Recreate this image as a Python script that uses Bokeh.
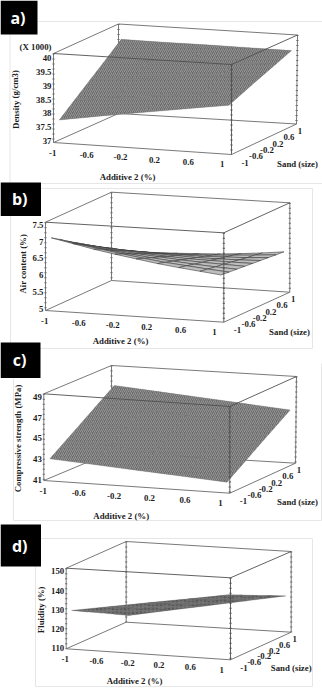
from bokeh.plotting import figure
from bokeh.models import ColumnDataSource, Range1d
from bokeh.core.properties import value
from bokeh.embed import file_html
from bokeh.resources import INLINE

# ---------- data ----------
ADDITIVE_TICKS = [-1, -0.6, -0.2, 0.2, 0.6, 1]
SAND_TICKS = [-1, -0.6, -0.2, 0.2, 0.6, 1]
TICK_LABELS = ["-1", "-0.6", "-0.2", "0.2", "0.6", "1"]

NODES_5 = [-1, -0.5, 0, 0.5, 1]
NODES_9 = [-1, -0.75, -0.5, -0.25, 0, 0.25, 0.5, 0.75, 1]

DENSITY_TICKS = [37, 37.5, 38, 38.5, 39, 39.5, 40]
DENSITY_LABELS = ["37", "37.5", "38", "38.5", "39", "39.5", "40"]
# rows: sand -1 .. 1, columns: additive -1 .. 1
DENSITY = [
    [37.74, 37.99, 38.22, 38.45, 38.67],
    [38.22, 38.39, 38.56, 38.73, 38.91],
    [38.70, 38.81, 38.93, 39.04, 39.15],
    [39.17, 39.22, 39.28, 39.33, 39.38],
    [39.65, 39.64, 39.64, 39.63, 39.62],
]

AIR_TICKS = [5, 5.5, 6, 6.5, 7, 7.5]
AIR_LABELS = ["5", "5.5", "6", "6.5", "7", "7.5"]
AIR = [
    [7.10, 6.97, 6.84, 6.73, 6.63, 6.53, 6.45, 6.38, 6.31],
    [6.95, 6.83, 6.73, 6.63, 6.54, 6.46, 6.40, 6.34, 6.29],
    [6.79, 6.69, 6.60, 6.52, 6.45, 6.39, 6.34, 6.30, 6.27],
    [6.64, 6.56, 6.48, 6.42, 6.37, 6.32, 6.29, 6.27, 6.25],
    [6.49, 6.42, 6.37, 6.32, 6.28, 6.25, 6.24, 6.23, 6.23],
    [6.34, 6.29, 6.25, 6.22, 6.20, 6.18, 6.18, 6.19, 6.21],
    [6.19, 6.15, 6.13, 6.11, 6.11, 6.11, 6.13, 6.15, 6.19],
    [6.03, 6.01, 6.00, 6.01, 6.02, 6.04, 6.08, 6.12, 6.17],
    [5.88, 5.88, 5.89, 5.91, 5.94, 5.97, 6.02, 6.08, 6.15],
]

STRENGTH_TICKS = [41, 43, 45, 47, 49]
STRENGTH_LABELS = ["41", "43", "45", "47", "49"]
STRENGTH = [
    [43.00, 42.73, 42.45, 42.18, 41.90],
    [44.12, 43.83, 43.54, 43.25, 42.96],
    [45.24, 44.94, 44.63, 44.33, 44.02],
    [46.36, 46.04, 45.72, 45.39, 45.07],
    [47.48, 47.14, 46.81, 46.47, 46.13],
]

FLUIDITY_TICKS = [110, 120, 130, 140, 150]
FLUIDITY_LABELS = ["110", "120", "130", "140", "150"]
FLUIDITY = [
    [129.4, 132.7, 136.0, 139.2, 142.5],
    [125.4, 128.8, 132.3, 135.7, 139.1],
    [121.5, 124.9, 128.6, 132.1, 135.6],
    [117.5, 121.2, 124.9, 128.5, 132.2],
    [113.5, 117.3, 121.1, 124.9, 128.7],
]

# ---------- panels: projection frame of each box (front/back, left/right, top/bottom) ----------
PANELS = [
    dict(tag="a)", tag_box=(0, 37, 0, 34), ylabel="Density (g/cm3)", ylabel_at=(15, 99),
         add_at=(127, 176.5), sand_at=(297, 163), extra=("(X 1000)", 35, 46),
         flt=(53, 53), frt=(231, 64), brt=(297, 34.5), blt=(118, 23.5),
         flb=(53, 142), frb=(231, 154), brb=(296, 123.5), blb=(118, 113),
         zr=(36.94, 40.17), zt=DENSITY_TICKS, zl=DENSITY_LABELS, z=DENSITY, nodes=NODES_5, mesh=False,
         hatch="right_diagonal_line", fill="#6c6c6c", hatch_color="#9a9a9a"),
    dict(tag="b)", tag_box=(0, 40.5, 182, 215.5), ylabel="Air content (%)", ylabel_at=(22.7, 263.3),
         add_at=(120, 340.7), sand_at=(289, 331), extra=None,
         flt=(45, 221.7), frt=(223.3, 232.3), brt=(289.3, 202.3), blt=(111, 191.7),
         flb=(45, 310), frb=(223.3, 321.7), brb=(289.3, 291.7), blb=(111, 280),
         zr=(4.95, 7.58), zt=AIR_TICKS, zl=AIR_LABELS, z=AIR, nodes=NODES_9, mesh=True,
         hatch=None, fill="#bdbdbd", hatch_color=None),
    dict(tag="c)", tag_box=(0, 40, 342, 377.5), ylabel="Compressive strength (MPa)", ylabel_at=(17.3, 438),
         add_at=(120.7, 515), sand_at=(297, 501), extra=None,
         flt=(43.3, 393.3), frt=(229.3, 406), brt=(296, 376), blt=(111, 365),
         flb=(43.3, 480), frb=(229.3, 492.7), brb=(295, 462.7), blb=(111, 451.7),
         zr=(40.94, 49.32), zt=STRENGTH_TICKS, zl=STRENGTH_LABELS, z=STRENGTH, nodes=NODES_5, mesh=False,
         hatch="right_diagonal_line", fill="#6c6c6c", hatch_color="#9a9a9a"),
    dict(tag="d)", tag_box=(0, 40.5, 524, 566), ylabel="Fluidity (%)", ylabel_at=(40.7, 609.3),
         add_at=(134, 680.7), sand_at=(290.7, 667.7), extra=None,
         flt=(65.7, 567.7), frt=(230, 577.3), brt=(290.7, 551), blt=(125.7, 541),
         flb=(65.7, 648.3), frb=(230, 659.3), brb=(290.7, 631.7), blb=(125.7, 621.7),
         zr=(109.5, 151.7), zt=FLUIDITY_TICKS, zl=FLUIDITY_LABELS, z=FLUIDITY, nodes=NODES_5, mesh=False,
         hatch="cross", fill="#5a5a5a", hatch_color="#858585"),
]

# pale frames that surround the pasted panels
FRAMES_X = [[37, 322], [9.5, 9.5], [10, 322], [40, 312], [312, 312], [10, 10], [10, 312],
            [13, 13], [321, 321], [13, 321], [35, 35], [35, 312], [312, 312], [40, 312]]
FRAMES_Y = [[21, 21], [34, 182], [183, 183], [188, 188], [188, 348], [215, 348], [348, 348],
            [378, 520], [363, 520], [520, 520], [566, 686], [686, 686], [538, 686], [538, 538]]

AXIS_PAD = 1.05
FONT = "Liberation Serif"
TEXT_SIZE = "8.8px"
TEXT_COLOR = "#1c1c1c"

p = figure(width=322, height=689, output_backend="svg", toolbar_location=None,
           x_range=Range1d(0, 322), y_range=Range1d(689, 0), min_border=0)
p.axis.visible = False
p.grid.visible = False
p.outline_line_color = None
p.background_fill_color = "white"
p.border_fill_color = "white"

p.multi_line(FRAMES_X, FRAMES_Y, line_color="#e6e6e6", line_width=1)


def project(P, a, s, z):
    """Map additive, sand and response values into the panel's oblique box."""
    u = (a + AXIS_PAD) / (2 * AXIS_PAD)
    t = (s + AXIS_PAD) / (2 * AXIS_PAD)
    w = (z - P["zr"][0]) / (P["zr"][1] - P["zr"][0])
    def bil(lo, hi):
        return (1 - w) * lo + w * hi
    out = []
    for i in (0, 1):
        fl = bil(P["flb"][i], P["flt"][i])
        fr = bil(P["frb"][i], P["frt"][i])
        bl = bil(P["blb"][i], P["blt"][i])
        br = bil(P["brb"][i], P["brt"][i])
        out.append((1 - t) * ((1 - u) * fl + u * fr) + t * ((1 - u) * bl + u * br))
    return out


def seg(P, names):
    return [P[n][0] for n in names], [P[n][1] for n in names]


def label(xs, ys, texts, align="center", angle=0.0, font=FONT, size=TEXT_SIZE, color=TEXT_COLOR):
    p.text(xs, ys, text=texts, text_font=value(font), text_font_style="bold", text_font_size=size,
           text_color=color, text_align=align, text_baseline="middle", angle=angle)


EDGE = "#6a6a6a"
for P in PANELS:
    # edges behind the surface
    back = [("blt", "blb"), ("blt", "brt"), ("blb", "brb"), ("flb", "blb"), ("flt", "blt"),
            ("flb", "frb"), ("frb", "brb"), ("flt", "flb"), ("brt", "brb")]
    xs, ys = zip(*[seg(P, e) for e in back])
    p.multi_line(list(xs), list(ys), line_color=EDGE, line_width=0.9)
    vert = [("blt", "blb"), ("flt", "flb"), ("brt", "brb")]
    xs, ys = zip(*[seg(P, e) for e in vert])
    p.multi_line(list(xs), list(ys), line_color=EDGE, line_width=2.2, line_dash="1 4")

    # surface, back cells first
    nodes, Z = P["nodes"], P["z"]
    qx, qy = [], []
    for j in range(len(nodes) - 2, -1, -1):
        for i in range(len(nodes) - 1):
            c = [(i, j), (i + 1, j), (i + 1, j + 1), (i, j + 1)]
            pts = [project(P, nodes[m], nodes[n], Z[n][m]) for m, n in c]
            qx.append([q[0] for q in pts])
            qy.append([q[1] for q in pts])
    src = ColumnDataSource(dict(xs=qx, ys=qy))
    if P["mesh"]:
        p.patches("xs", "ys", source=src, fill_color=P["fill"], line_color="#3c3c3c", line_width=0.6)
    else:
        p.patches("xs", "ys", source=src, fill_color=P["fill"], line_color=P["fill"], line_width=0.3,
                  hatch_pattern=P["hatch"], hatch_color=P["hatch_color"], hatch_scale=4, hatch_weight=0.9)

    # edges in front of the surface
    front = [("flt", "frt"), ("frt", "frb"), ("frt", "brt")]
    xs, ys = zip(*[seg(P, e) for e in front])
    p.multi_line(list(xs), list(ys), line_color="#505050", line_width=0.9)
    xs, ys = seg(P, ("frt", "frb"))
    p.line(xs, ys, line_color="#505050", line_width=2.2, line_dash="1 4")

    # tick labels on the three axes
    lz = [project(P, -AXIS_PAD, -AXIS_PAD, v) for v in P["zt"]]
    label([q[0] - 2 for q in lz], [q[1] for q in lz], P["zl"], align="right")
    lx = [project(P, v, -AXIS_PAD, P["zr"][0]) for v in ADDITIVE_TICKS]
    label([q[0] - 5 for q in lx], [q[1] + 10 for q in lx], TICK_LABELS)
    ls = [project(P, AXIS_PAD, v, P["zr"][0]) for v in SAND_TICKS]
    ox = [12 - 7 * (v + 1) / 2 for v in SAND_TICKS]
    oy = [9 - 3 * (v + 1) / 2 for v in SAND_TICKS]
    label([q[0] + dx for q, dx in zip(ls, ox)], [q[1] + dy for q, dy in zip(ls, oy)], TICK_LABELS)

    # axis titles
    label([P["add_at"][0]], [P["add_at"][1]], ["Additive 2 (%)"])
    label([P["sand_at"][0]], [P["sand_at"][1]], ["Sand (size)"])
    label([P["ylabel_at"][0]], [P["ylabel_at"][1]], [P["ylabel"]], angle=1.5708)
    if P["extra"]:
        label([P["extra"][1]], [P["extra"][2]], [P["extra"][0]])

    # panel tag
    x0, x1, y0, y1 = P["tag_box"]
    p.quad(left=[x0], right=[x1], top=[y0], bottom=[y1], fill_color="black", line_color=None)
    label([(x0 + x1) / 2 - 1], [(y0 + y1) / 2], [P["tag"]], font="Open Sans", size="16px", color="white")

open("out.html", "w").write(file_html(p, INLINE))
